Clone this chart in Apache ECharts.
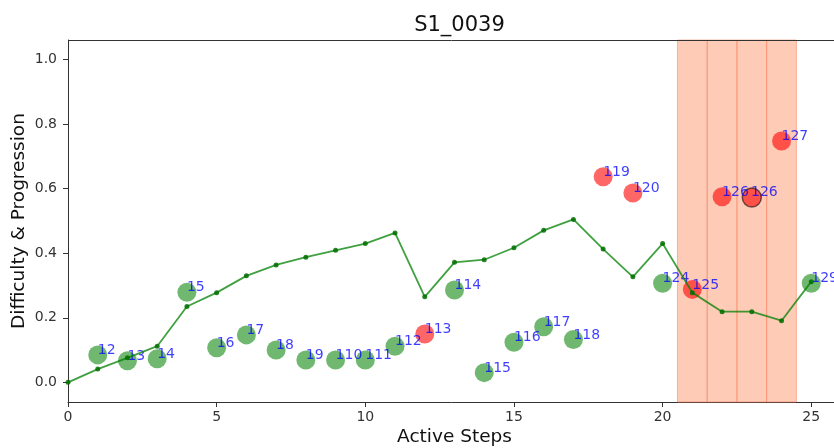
<!DOCTYPE html>
<html>
<head>
<meta charset="utf-8">
<script src="https://cdn.jsdelivr.net/npm/echarts@6/dist/echarts.min.js"></script>
<style>html,body{margin:0;padding:0;background:#fff}#c{width:834px;height:448px}</style>
</head>
<body>
<div id="c"></div>
<script>
const steps = [0,1,2,3,4,5,6,7,8,9,10,11,12,13,14,15,16,17,18,19,20,21,22,23,24,25];
const progression = [0.0,0.041,0.076,0.112,0.235,0.278,0.330,0.364,0.388,0.409,0.430,0.463,0.265,0.372,0.380,0.417,0.471,0.505,0.413,0.327,0.430,0.278,0.219,0.219,0.191,0.312];
const pointX = [1,2,3,4,5,6,7,8,9,10,11,12,13,14,15,16,17,18,19,20,21,22,23,24,25];
const pointY = [0.085,0.067,0.073,0.279,0.107,0.147,0.100,0.069,0.069,0.069,0.112,0.150,0.286,0.030,0.124,0.172,0.133,0.637,0.587,0.307,0.288,0.575,0.573,0.748,0.307];
const pointLabels = ['12','13','14','15','16','17','18','19','110','111','112','113','114','115','116','117','118','119','120','124','125','126','126','127','129'];
const pointStatus = ['g','g','g','g','g','g','g','g','g','g','g','r','g','g','g','g','g','r','r','g','r','r','r','r','g'];
const pointEdge = [0,0,0,0,0,0,0,0,0,0,0,0,0,0,0,0,0,0,0,0,0,0,1,0,0];
const spanStarts = [20.5,21.5,22.5,23.5];
const spanEnds = [21.5,22.5,23.5,24.5];
const yTicks = [0,0.2,0.4,0.6,0.8,1.0];
const xTicks = [0,5,10,15,20,25];

const FONT = 'DejaVu Sans';
const chart = echarts.init(document.getElementById('c'), null, {renderer:'canvas'});

const scatterData = pointX.map((x,i)=>({
  value:[x,pointY[i]],
  name:pointLabels[i],
  itemStyle:{
    color: pointStatus[i]==='r' ? 'rgba(255,0,0,0.75)' : 'rgba(0,128,0,0.7)',
    borderColor: pointEdge[i] ? 'rgba(0,0,0,0.7)' : 'transparent',
    borderWidth: pointEdge[i] ? 1.5 : 0
  }
}));

const areas = spanStarts.map((s,i)=>[{xAxis:s},{xAxis:spanEnds[i]}]);

chart.setOption({
  animation:false,
  title:{
    text:'S1_0039', left:454.5, top:10, textAlign:'center',
    textStyle:{fontFamily:FONT, fontSize:21, fontWeight:'normal', color:'#111'}
  },
  grid:{left:68, top:40, width:773, height:362, containLabel:false, outerBoundsMode:'none'},
  xAxis:{
    type:'value', min:0, max:26,
    name:'Active Steps', nameLocation:'middle', nameGap:26, nameMoveOverlap:false,
    nameTextStyle:{fontFamily:FONT, fontSize:18.5, color:'#111'},
    axisLine:{show:true, onZero:false, lineStyle:{color:'#333', width:1}},
    axisTick:{show:true, length:5, customValues:xTicks, lineStyle:{color:'#333'}},
    axisLabel:{customValues:xTicks, margin:8, fontFamily:FONT, fontSize:14, color:'#333',
      formatter:v=>String(v)},
    splitLine:{show:false}
  },
  yAxis:{
    type:'value', min:-0.061, max:1.061,
    name:'Difficulty & Progression', nameLocation:'middle', nameGap:39, nameRotate:90, nameMoveOverlap:false,
    nameTextStyle:{fontFamily:FONT, fontSize:18.5, color:'#111'},
    axisLine:{show:true, onZero:false, lineStyle:{color:'#333', width:1}},
    axisTick:{show:true, length:5, customValues:yTicks, lineStyle:{color:'#333'}},
    axisLabel:{customValues:yTicks, margin:11, fontFamily:FONT, fontSize:14, color:'#333',
      formatter:v=>Number(v).toFixed(1)},
    splitLine:{show:false}
  },
  series:[
    {
      type:'line', data:[], silent:true, z:1,
      markArea:{
        silent:true,
        itemStyle:{color:'rgba(252,160,122,0.55)', borderColor:'rgba(250,130,95,0.55)', borderWidth:1},
        data:areas
      }
    },
    {
      type:'scatter', z:2, symbol:'circle', symbolSize:19,
      data:scatterData,
      label:{
        show:true, position:[9.5,12], align:'left', verticalAlign:'bottom',
        formatter:p=>p.name,
        fontFamily:FONT, fontSize:14, color:'rgba(0,0,255,0.95)',
        textBorderWidth:0, textBorderColor:'transparent'
      }
    },
    {
      type:'line', z:3, data:steps.map((x,i)=>[x,progression[i]]),
      symbol:'circle', symbolSize:5, showSymbol:true,
      lineStyle:{color:'rgba(0,128,0,0.75)', width:1.8},
      itemStyle:{color:'rgba(0,110,0,0.85)', borderWidth:0}
    },
    {
      type:'line', data:[], z:0,
      markLine:{silent:true, symbol:'none', label:{show:false},
        lineStyle:{color:'#333', width:1, type:'solid'},
        data:[{yAxis:1.061}]}
    }
  ]
});
</script>
</body>
</html>
